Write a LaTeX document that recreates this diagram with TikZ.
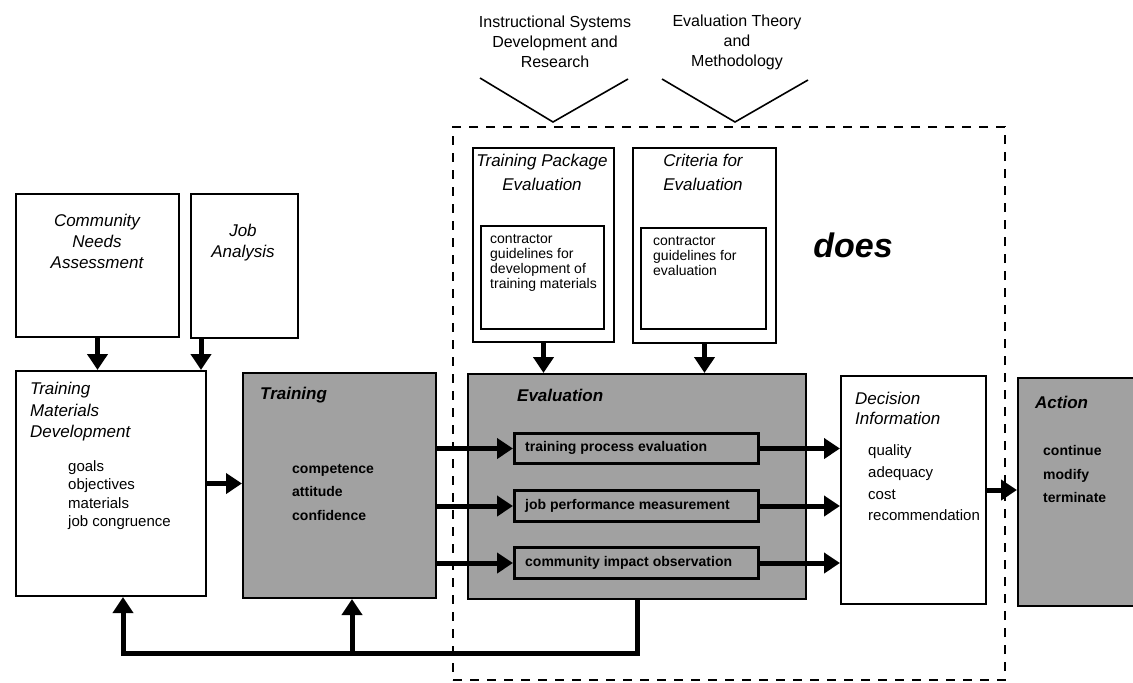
\documentclass[tikz,border=0pt]{standalone}
\usepackage{fontspec}
\setmainfont{Liberation Sans}
\usetikzlibrary{arrows.meta}
\newcommand\fsz[2]{\fontsize{#1}{#2}\selectfont}
\begin{document}
\begin{tikzpicture}[x=1pt,y=-1pt,
  plainbox/.style={draw, line width=2pt, fill=white, anchor=north west, inner sep=0pt},
  shadebox/.style={plainbox, fill=black!37},
  subbox/.style={plainbox, line width=3pt, fill=black!37},
  flow/.style={line width=5pt, -{Triangle[length=16pt,width=20pt]}},
  ttl/.style={inner sep=0pt, font=\fsz{17}{21}\itshape, align=left},
  ttlc/.style={inner sep=0pt, font=\fsz{17}{24}\itshape, align=center},
  bodytxt/.style={inner sep=0pt, anchor=west, font=\fsz{15}{18.5}, align=left},
  innertxt/.style={inner sep=0pt, anchor=west, font=\fsz{14}{15}, align=left},
  darktxt/.style={inner sep=0pt, anchor=west, font=\fsz{14}{23.5}\bfseries, align=left},
  srctxt/.style={inner sep=0pt, font=\fsz{16}{20}, align=center},
  frame/.style={draw, line width=2pt, dash pattern=on 9pt off 8pt, anchor=north west, inner sep=0pt},
  vline/.style={line width=1.6pt}]
\useasboundingbox (0,0) rectangle (1133,683);

% evaluation frame
\node[frame, minimum width=552pt, minimum height=553pt] (frame) at (452,126) {};

% sources feeding the evaluation
\node[srctxt] (isd) at (555,42) {Instructional Systems\\Development and\\Research};
\node[srctxt] (etm) at (737,42) {Evaluation Theory\\and\\Methodology};
\coordinate (v1) at (553,122);
\coordinate (v2) at (735,122);
\draw[vline] (480,78) -- (v1) -- (628,79);
\draw[vline] (662,79) -- (v2) -- (808,80);

% upper boxes
\node[plainbox, minimum width=163pt, minimum height=143pt] (cna) at (15,193) {};
\node[ttl, align=center] (cnat) at (97,241) {Community\\Needs\\Assessment};
\node[plainbox, minimum width=107pt, minimum height=144pt] (ja) at (190,193) {};
\node[ttl, align=center] (jat) at (243,243) {Job\\Analysis};

\node[plainbox, minimum width=141pt, minimum height=194pt] (tpe) at (472,147) {};
\node[ttlc] (tpet) at (542,172) {Training Package\\Evaluation};
\node[plainbox, minimum width=123pt, minimum height=103pt] (tpei) at (480,225) {};
\node[innertxt] (tpeit) at (490,263) {contractor\\guidelines for\\development of\\training materials};

\node[plainbox, minimum width=143pt, minimum height=195pt] (cfe) at (632,147) {};
\node[ttlc] (cfet) at (703,172) {Criteria for\\Evaluation};
\node[plainbox, minimum width=125pt, minimum height=101pt] (cfei) at (640,227) {};
\node[innertxt] (cfeit) at (653,256) {contractor\\guidelines for\\evaluation};

\node[inner sep=0pt, font=\fsz{34}{40}\bfseries\itshape] (does) at (853,245) {does};

% main row
\node[plainbox, minimum width=190pt, minimum height=225pt] (tmd) at (15,370) {};
\node[ttl, anchor=west, font=\fsz{17}{21.5}\itshape] (tmdt) at (30,412) {Training\\Materials\\Development};
\node[bodytxt] (tmdb) at (68,495) {goals\\objectives\\materials\\job congruence};

\node[shadebox, minimum width=193pt, minimum height=225pt] (train) at (242,372) {};
\node[ttl, anchor=west, font=\fsz{17}{21}\bfseries\itshape] (traint) at (260,395) {Training};
\node[darktxt] (trainb) at (292,492) {competence\\attitude\\confidence};

\node[shadebox, minimum width=338pt, minimum height=225pt] (eval) at (467,373) {};
\node[ttl, anchor=west, font=\fsz{17}{21}\bfseries\itshape] (evalt) at (517,395) {Evaluation};
\node[subbox, minimum width=244pt, minimum height=30pt] (s1) at (513,432) {};
\node[darktxt] (s1t) at (525,448) {training process evaluation};
\node[subbox, minimum width=244pt, minimum height=31pt] (s2) at (513,489) {};
\node[darktxt] (s2t) at (525,505.5) {job performance measurement};
\node[subbox, minimum width=244pt, minimum height=31pt] (s3) at (513,546) {};
\node[darktxt] (s3t) at (525,562.5) {community impact observation};

\node[plainbox, minimum width=145pt, minimum height=228pt] (dec) at (840,375) {};
\node[ttl, anchor=west, font=\fsz{17}{20}\itshape] (dect) at (855,408) {Decision\\Information};
\node[bodytxt, font=\fsz{15}{21.7}] (decb) at (868,483) {quality\\adequacy\\cost\\recommendation};

\node[shadebox, minimum width=140pt, minimum height=228pt] (act) at (1017,377) {};
\node[ttl, anchor=west, font=\fsz{17}{21}\bfseries\itshape] (actt) at (1035,402) {Action};
\node[darktxt] (actb) at (1043,474) {continue\\modify\\terminate};

% connectors
\draw[flow] (cna.south) -- (cna.south |- tmd.north);
\draw[flow] ([xshift=-6pt]tmd.north east |- ja.south) -- ([xshift=-6pt]tmd.north east);
\draw[flow] (tpe.south) -- (tpe.south |- eval.north);
\draw[flow] (cfe.south) -- (cfe.south |- eval.north);
\draw[flow] (tmd.east) -- (tmd.east -| train.west);
\draw[flow] (train.east |- s1.west) -- (s1.west);
\draw[flow] (train.east |- s2.west) -- (s2.west);
\draw[flow] (train.east |- s3.west) -- (s3.west);
\draw[flow] (s1.east) -- (s1.east -| dec.west);
\draw[flow] (s2.east) -- (s2.east -| dec.west);
\draw[flow] (s3.east) -- (s3.east -| dec.west);
\draw[flow] (dec.east) -- (dec.east -| act.west);

% feedback loop
\coordinate (loop) at (123,653);
\coordinate (branch) at (352,653);
\draw[flow] (eval.south) |- (loop) -- (tmd.south -| loop);
\draw[flow] (branch) -- (train.south -| branch);
\end{tikzpicture}
\end{document}
